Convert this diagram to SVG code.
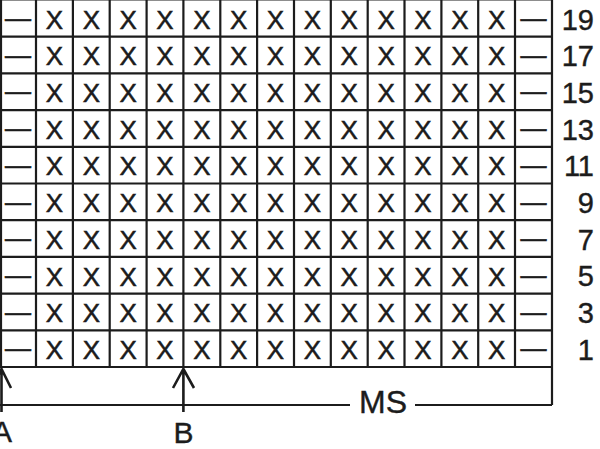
<svg xmlns="http://www.w3.org/2000/svg" width="600" height="449" viewBox="0 0 600 449">
<style>
.g{stroke:#1c1c1c;stroke-width:2.2;fill:none}
.x{font-family:"Liberation Sans",Arial,sans-serif;font-size:26px;fill:#1c1c1c;stroke:#1c1c1c;stroke-width:0.5;text-anchor:middle}
.d{font-family:"Liberation Sans",Arial,sans-serif;font-size:26px;fill:#1c1c1c;stroke:#1c1c1c;stroke-width:0.6;text-anchor:middle}
.n{font-family:"Liberation Sans",Arial,sans-serif;font-size:29px;fill:#1c1c1c;stroke:#1c1c1c;stroke-width:0.4;text-anchor:end}
.l{font-family:"Liberation Sans",Arial,sans-serif;font-size:30px;fill:#1c1c1c;stroke:#1c1c1c;stroke-width:0.4;text-anchor:middle}
.a{stroke:#1c1c1c;stroke-width:2.6;fill:none}
</style>
<rect width="600" height="449" fill="#fff"/>
<g id="grid" class="g">
<path d="M1,-0.5V367 M36,0V367 M72.9,0V367 M109.7,0V367 M146.6,0V367 M183.4,0V367 M220.3,0V367 M257.1,0V367 M294,0V367 M330.8,0V367 M367.7,0V367 M404.5,0V367 M441.4,0V367 M478.2,0V367 M515,0V367 M552,-0.5V405"/>
<path d="M0,-0.5H552 M0,36.7H552 M0,73.4H552 M0,110.1H552 M0,146.8H552 M0,183.5H552 M0,220.2H552 M0,256.9H552 M0,293.6H552 M0,330.3H552 M0,367H552"/>
<path d="M0,405H350 M415,405H552"/>
</g>
<g id="dashes">
<text class="d" x="18" y="27">—</text><text class="d" x="533.5" y="27">—</text>
<text class="d" x="18" y="63.7">—</text><text class="d" x="533.5" y="63.7">—</text>
<text class="d" x="18" y="100.4">—</text><text class="d" x="533.5" y="100.4">—</text>
<text class="d" x="18" y="137.1">—</text><text class="d" x="533.5" y="137.1">—</text>
<text class="d" x="18" y="173.8">—</text><text class="d" x="533.5" y="173.8">—</text>
<text class="d" x="18" y="210.5">—</text><text class="d" x="533.5" y="210.5">—</text>
<text class="d" x="18" y="247.2">—</text><text class="d" x="533.5" y="247.2">—</text>
<text class="d" x="18" y="283.9">—</text><text class="d" x="533.5" y="283.9">—</text>
<text class="d" x="18" y="320.6">—</text><text class="d" x="533.5" y="320.6">—</text>
<text class="d" x="18" y="357.3">—</text><text class="d" x="533.5" y="357.3">—</text>
</g>
<g id="xs">
<text class="x" y="28.6"><tspan x="54.5">X</tspan><tspan x="91.3">X</tspan><tspan x="128.1">X</tspan><tspan x="165">X</tspan><tspan x="201.8">X</tspan><tspan x="238.7">X</tspan><tspan x="275.5">X</tspan><tspan x="312.4">X</tspan><tspan x="349.2">X</tspan><tspan x="386.1">X</tspan><tspan x="422.9">X</tspan><tspan x="459.8">X</tspan><tspan x="496.6">X</tspan></text>
<text class="x" y="65.3"><tspan x="54.5">X</tspan><tspan x="91.3">X</tspan><tspan x="128.1">X</tspan><tspan x="165">X</tspan><tspan x="201.8">X</tspan><tspan x="238.7">X</tspan><tspan x="275.5">X</tspan><tspan x="312.4">X</tspan><tspan x="349.2">X</tspan><tspan x="386.1">X</tspan><tspan x="422.9">X</tspan><tspan x="459.8">X</tspan><tspan x="496.6">X</tspan></text>
<text class="x" y="102"><tspan x="54.5">X</tspan><tspan x="91.3">X</tspan><tspan x="128.1">X</tspan><tspan x="165">X</tspan><tspan x="201.8">X</tspan><tspan x="238.7">X</tspan><tspan x="275.5">X</tspan><tspan x="312.4">X</tspan><tspan x="349.2">X</tspan><tspan x="386.1">X</tspan><tspan x="422.9">X</tspan><tspan x="459.8">X</tspan><tspan x="496.6">X</tspan></text>
<text class="x" y="138.7"><tspan x="54.5">X</tspan><tspan x="91.3">X</tspan><tspan x="128.1">X</tspan><tspan x="165">X</tspan><tspan x="201.8">X</tspan><tspan x="238.7">X</tspan><tspan x="275.5">X</tspan><tspan x="312.4">X</tspan><tspan x="349.2">X</tspan><tspan x="386.1">X</tspan><tspan x="422.9">X</tspan><tspan x="459.8">X</tspan><tspan x="496.6">X</tspan></text>
<text class="x" y="175.4"><tspan x="54.5">X</tspan><tspan x="91.3">X</tspan><tspan x="128.1">X</tspan><tspan x="165">X</tspan><tspan x="201.8">X</tspan><tspan x="238.7">X</tspan><tspan x="275.5">X</tspan><tspan x="312.4">X</tspan><tspan x="349.2">X</tspan><tspan x="386.1">X</tspan><tspan x="422.9">X</tspan><tspan x="459.8">X</tspan><tspan x="496.6">X</tspan></text>
<text class="x" y="212.1"><tspan x="54.5">X</tspan><tspan x="91.3">X</tspan><tspan x="128.1">X</tspan><tspan x="165">X</tspan><tspan x="201.8">X</tspan><tspan x="238.7">X</tspan><tspan x="275.5">X</tspan><tspan x="312.4">X</tspan><tspan x="349.2">X</tspan><tspan x="386.1">X</tspan><tspan x="422.9">X</tspan><tspan x="459.8">X</tspan><tspan x="496.6">X</tspan></text>
<text class="x" y="248.8"><tspan x="54.5">X</tspan><tspan x="91.3">X</tspan><tspan x="128.1">X</tspan><tspan x="165">X</tspan><tspan x="201.8">X</tspan><tspan x="238.7">X</tspan><tspan x="275.5">X</tspan><tspan x="312.4">X</tspan><tspan x="349.2">X</tspan><tspan x="386.1">X</tspan><tspan x="422.9">X</tspan><tspan x="459.8">X</tspan><tspan x="496.6">X</tspan></text>
<text class="x" y="285.5"><tspan x="54.5">X</tspan><tspan x="91.3">X</tspan><tspan x="128.1">X</tspan><tspan x="165">X</tspan><tspan x="201.8">X</tspan><tspan x="238.7">X</tspan><tspan x="275.5">X</tspan><tspan x="312.4">X</tspan><tspan x="349.2">X</tspan><tspan x="386.1">X</tspan><tspan x="422.9">X</tspan><tspan x="459.8">X</tspan><tspan x="496.6">X</tspan></text>
<text class="x" y="322.2"><tspan x="54.5">X</tspan><tspan x="91.3">X</tspan><tspan x="128.1">X</tspan><tspan x="165">X</tspan><tspan x="201.8">X</tspan><tspan x="238.7">X</tspan><tspan x="275.5">X</tspan><tspan x="312.4">X</tspan><tspan x="349.2">X</tspan><tspan x="386.1">X</tspan><tspan x="422.9">X</tspan><tspan x="459.8">X</tspan><tspan x="496.6">X</tspan></text>
<text class="x" y="358.9"><tspan x="54.5">X</tspan><tspan x="91.3">X</tspan><tspan x="128.1">X</tspan><tspan x="165">X</tspan><tspan x="201.8">X</tspan><tspan x="238.7">X</tspan><tspan x="275.5">X</tspan><tspan x="312.4">X</tspan><tspan x="349.2">X</tspan><tspan x="386.1">X</tspan><tspan x="422.9">X</tspan><tspan x="459.8">X</tspan><tspan x="496.6">X</tspan></text>
</g>
<g id="rownumbers">
<text class="n" x="594" y="29.5">19</text>
<text class="n" x="594" y="66.2">17</text>
<text class="n" x="594" y="102.9">15</text>
<text class="n" x="594" y="139.6">13</text>
<text class="n" x="594" y="176.3">11</text>
<text class="n" x="594" y="213">9</text>
<text class="n" x="594" y="249.7">7</text>
<text class="n" x="594" y="286.4">5</text>
<text class="n" x="594" y="323.1">3</text>
<text class="n" x="594" y="359.8">1</text>
</g>
<g id="connectors">
<path class="a" d="M1.5,369V412 M-8,388L1.5,369L11,388"/>
<path class="a" d="M183.4,369V412 M173,388L183.4,369L194,388"/>
</g>
<g id="labels">
<text class="l" x="2" y="442">A</text>
<text class="l" x="183.4" y="443">B</text>
<text class="l" x="383" y="413" style="font-size:32px">MS</text>
</g>
</svg>
